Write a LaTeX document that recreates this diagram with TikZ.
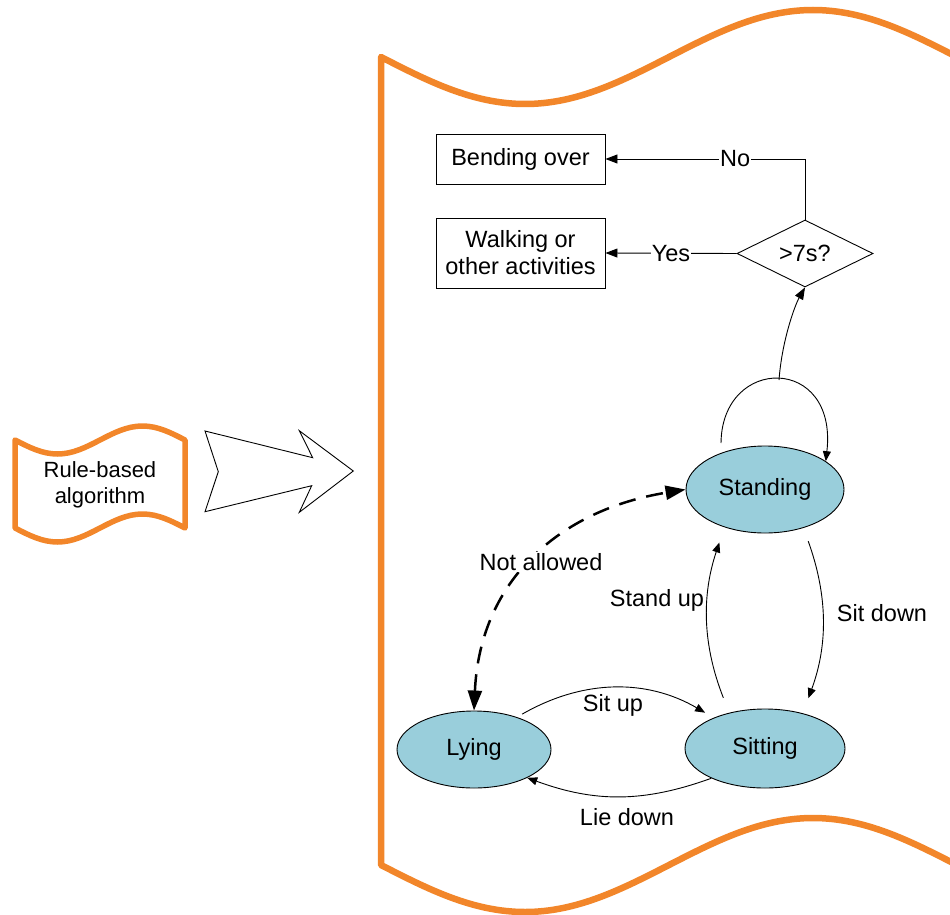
\documentclass[tikz,border=0pt]{standalone}
\usepackage{fontspec}
\setmainfont{Liberation Sans}
\usetikzlibrary{arrows.meta,shapes.geometric}
\definecolor{frameorange}{RGB}{242,134,42}
\definecolor{stateblue}{RGB}{153,206,219}
\begin{document}
\begin{tikzpicture}[x=1pt,y=-1pt,
  txt/.style={font=\fontsize{23.5}{27}\selectfont},
  state/.style={ellipse,draw,line width=0.9pt,fill=stateblue,inner sep=0pt,txt},
  boxnode/.style={rectangle,draw,line width=0.9pt,minimum width=169pt,inner sep=0pt,align=center,txt},
  conn/.style={line width=0.9pt},
  bighead/.style={-{Triangle[length=12pt,width=9pt]}},
  smallhead/.style={-{Triangle[length=10pt,width=8pt]}},
  lbl/.style={txt,inner sep=1pt},
  orangeline/.style={draw=frameorange,line join=round}
]
\useasboundingbox (0,0) rectangle (950,915);

% big frame
\draw[orangeline,line width=6.5pt]
  (381,57) sin (525,104) cos (669,57) sin (813,10) cos (957,57)
  -- (957,865) sin (813,818) cos (669,865) sin (525,912) cos (381,865) -- cycle;

% small flag
\draw[orangeline,line width=5.5pt]
  (15,440) sin (57.5,454) cos (100,440) sin (142.5,426) cos (185,440)
  -- (185,528) sin (142.5,514) cos (100,528) sin (57.5,542) cos (15,528) -- cycle;
\node[font=\fontsize{22}{26}\selectfont,align=center] (rb) at (100,485) {Rule-based\\algorithm};

% big arrow
\draw[line width=0.9pt,line join=miter]
  (205,431) -- (312.7,457.7) -- (299.3,430.7) -- (353.3,471) -- (299.3,512.3)
  -- (311.7,485.7) -- (205,511.7) -- (218.3,471.7) -- cycle;

% nodes
\node[boxnode,minimum height=50pt] (bend) at (520.5,159) {Bending over};
\node[boxnode,minimum height=70pt] (walk) at (520.5,253) {Walking or\\other activities};
\node[diamond,draw,line width=0.9pt,minimum width=136pt,minimum height=67pt,inner sep=0pt,aspect=2,txt] (dia) at (805,253.5) {>7s?};

\node[state,minimum width=158pt,minimum height=87pt] (st) at (765,489.5) {Standing};
\node[state,minimum width=160pt,minimum height=79pt] (si) at (765,748.5) {Sitting};
\node[state,minimum width=154pt,minimum height=77pt] (ly) at (474,749.5) {Lying};

% decision connectors
\draw[conn,bighead] (dia.north) |- node[pos=0.675,fill=white,lbl] (nolbl) {No} (bend.east);
\draw[conn,bighead] (dia.west) -- node[fill=white,lbl] (yeslbl) {Yes} (walk.east);

% loop on standing and arrow to decision
\coordinate (loopA) at (721,443);
\coordinate (loopT) at (779,380);
\draw[conn,smallhead] (loopA) .. controls (722,355) and (838,355) .. (st.25);
\draw[conn,bighead] (loopT) .. controls (782,340) and (795,305) .. (dia.south);

% state transitions
\draw[conn,smallhead,shorten <=14pt,shorten >=16pt] (st.-45) to[bend left=20] (si.43);
\draw[conn,smallhead,shorten <=16pt,shorten >=16pt] (si.135.6) to[bend left=20] (st.223);
\draw[conn,smallhead,shorten <=6pt,shorten >=10pt] (ly.37) to[bend left=30] (si.149);
\draw[conn,smallhead] (si.209) to[bend left=20] (ly.-28);

% not allowed
\draw[line width=2.5pt,dash pattern=on 17pt off 11pt,
  {Triangle[length=20pt,width=14pt]}-{Triangle[length=20pt,width=14pt]}]
  (ly.north) .. controls (480,580) and (560,510) .. (st.west);
\node[lbl,fill=white] (na) at (541,562) {Not allowed};

% labels
\node[lbl] (su) at (613,705) {Sit up};
\node[lbl] (ld) at (627,817) {Lie down};
\node[lbl] (sup) at (657,600) {Stand up};
\node[lbl] (sd) at (882,613) {Sit down};
\end{tikzpicture}
\end{document}
